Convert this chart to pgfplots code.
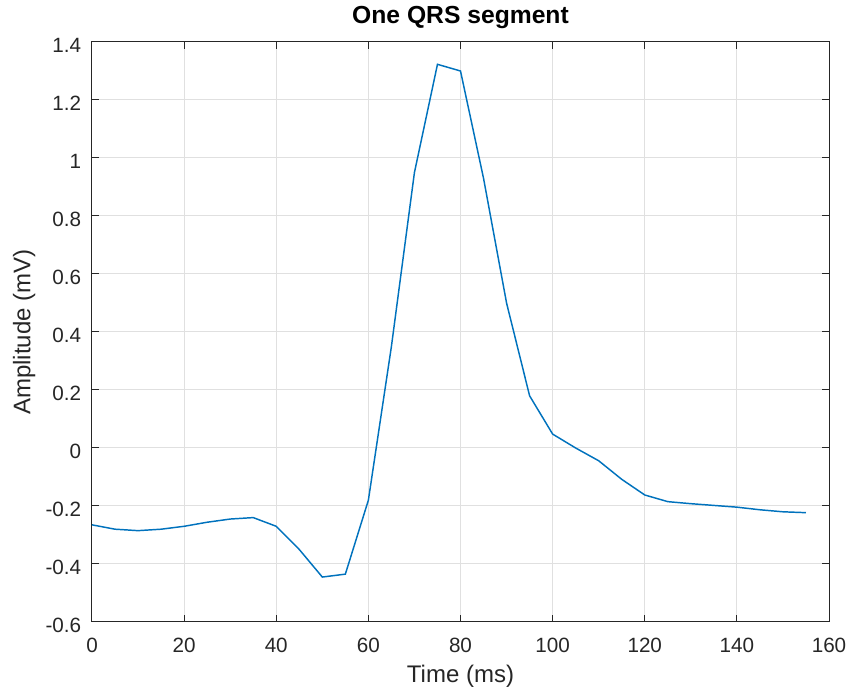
\documentclass[border=0pt]{standalone}
\usepackage{fontspec}
\setmainfont{Liberation Sans}
\usepackage{pgfplots}
\pgfplotsset{compat=1.18}
\definecolor{mblue}{RGB}{0,114,189}
\definecolor{axgray}{RGB}{38,38,38}

\begin{document}
\begin{tikzpicture}
\begin{axis}[
    scale only axis,
    width=552.75pt, height=435pt,
    xmin=0, xmax=160, ymin=-0.6, ymax=1.4,
    xtick={0,20,...,160},
    ytick={-0.6,-0.4,...,1.41},
    grid=major,
    grid style={line width=0.75pt, color=black!12},
    axis line style={axgray, line width=0.75pt},
    tick style={axgray, line width=0.75pt},
    major tick length=5.3pt,
    tick align=inside,
    xtick pos=both, ytick pos=both,
    ticklabel style={font=\fontsize{15.5}{17}\selectfont, text=axgray, inner sep=0pt},
    xticklabel style={anchor=north, yshift=-12pt},
    yticklabel style={anchor=east, xshift=-7.9pt, yshift=-2.5pt},
    /pgf/number format/assume math mode=true,
    /pgf/number format/fixed,
    /pgf/number format/precision=1,
    xlabel={Time (ms)},
    ylabel={Amplitude (mV)},
    label style={font=\fontsize{18}{20}\selectfont, text=axgray, inner sep=0pt},
    xlabel style={at={(axis description cs:0.5,0)}, anchor=north, yshift=-32pt},
    % rotated frame: yshift moves the label to the left
    ylabel style={at={(axis description cs:0,0.5)}, anchor=north, yshift=59.5pt},
    title={\textbf{One QRS segment}},
    title style={font=\fontsize{18.5}{20}\selectfont, at={(axis description cs:0.5,1)}, anchor=base, inner sep=0pt, yshift=7.5pt},
]
\addplot[mblue, line width=1.1pt] coordinates {
(0,-0.265)(5,-0.280)(10,-0.285)(15,-0.280)(20,-0.270)(25,-0.256)(30,-0.245)(35,-0.240)
(40,-0.270)(45,-0.350)(50,-0.445)(55,-0.435)(60,-0.180)(65,0.350)(70,0.950)(75,1.323)
(80,1.300)(85,0.930)(90,0.500)(95,0.180)(100,0.048)(105,0.000)(110,-0.044)(115,-0.108)
(120,-0.162)(125,-0.185)(130,-0.192)(135,-0.198)(140,-0.204)(145,-0.213)(150,-0.220)(155,-0.223)
};
\end{axis}
\pgfresetboundingbox
\path[use as bounding box] (current axis.south west) ++(-69pt,-52.5pt) rectangle ++(634.5pt,519pt);
\end{tikzpicture}
\end{document}
